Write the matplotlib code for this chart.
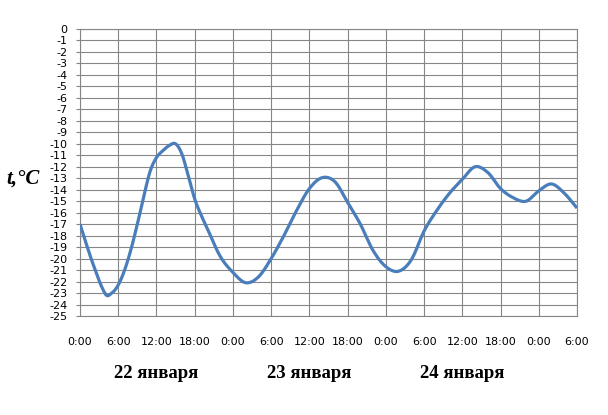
import numpy as np
import matplotlib
matplotlib.use('Agg')
import matplotlib.pyplot as plt
import matplotlib.transforms as mtransforms

plt.rcParams['axes.unicode_minus'] = False

# данные: часы от 0:00 22 января, температура
hours = [0, 2, 4, 5, 6, 7, 8, 9, 10, 11, 12, 13, 14, 15, 16, 17, 18, 19, 20, 22, 24, 26, 28,
         30, 32, 34, 36, 38, 40, 42, 44, 46, 48, 50, 52, 54, 56, 58, 60, 62, 64, 66,
         68, 70, 72, 74, 76, 78]
temps = [-17.0, -20.4, -23.1, -23.0, -22.3, -21.0, -19.2, -17.0, -14.6, -12.4, -11.2, -10.6,
         -10.15, -10.0, -10.9, -12.8, -14.8, -16.2, -17.4, -19.8, -21.2, -22.1, -21.6,
         -20.0, -18.0, -15.8, -13.9, -12.95, -13.3, -15.1, -17.0, -19.3, -20.7,
         -21.1, -20.1, -17.6, -15.8, -14.3, -13.1, -12.0, -12.5, -13.9,
         -14.7, -15.0, -14.1, -13.5, -14.3, -15.6]

tick_hours = list(range(0, 79, 6))
tick_labels = ['0:00', '6:00', '12:00', '18:00'] * 3 + ['0:00', '6:00']
day_names = ['22 января', '23 января', '24 января']
day_centers = [12, 36, 60]
day_starts = [24, 48, 72]


def smooth(x, y, n=12):
    # сглаженная линия (кубический Эрмит по x)
    x = np.asarray(x, float)
    y = np.asarray(y, float)
    m = np.empty_like(y)
    m[1:-1] = (y[2:] - y[:-2]) / (x[2:] - x[:-2])
    m[0] = (y[1] - y[0]) / (x[1] - x[0])
    m[-1] = (y[-1] - y[-2]) / (x[-1] - x[-2])
    xs, ys = [], []
    t = np.linspace(0, 1, n, endpoint=False)
    for i in range(len(x) - 1):
        h = x[i + 1] - x[i]
        h00 = 2 * t ** 3 - 3 * t ** 2 + 1
        h10 = t ** 3 - 2 * t ** 2 + t
        h01 = -2 * t ** 3 + 3 * t ** 2
        h11 = t ** 3 - t ** 2
        xs.append(x[i] + t * h)
        ys.append(h00 * y[i] + h10 * h * m[i] + h01 * y[i + 1] + h11 * h * m[i + 1])
    xs.append([x[-1]])
    ys.append([y[-1]])
    return np.concatenate(xs), np.concatenate(ys)


fig = plt.figure(figsize=(6.08, 4.15), dpi=100)
ax = fig.add_axes([80 / 608, 1 - 316 / 415, 497 / 608, 287 / 415])

grid_col = '#868686'
ax.set_xlim(0, 78)
ax.set_ylim(-25, 0)
ax.set_yticks(np.arange(-25, 1, 1))
ax.set_yticklabels([str(v) for v in range(-25, 1)], fontsize=8)
ax.set_xticks(tick_hours)
ax.set_xticklabels(tick_labels, fontsize=8)
ax.set_xticks(day_starts, minor=True)
ax.grid(True, which='major', color=grid_col, linewidth=0.8)
ax.tick_params(axis='y', length=3, color=grid_col, pad=6)
ax.tick_params(axis='x', which='major', length=0, pad=15)
ax.tick_params(axis='x', which='minor', length=9.5, color=grid_col, width=0.8)
for s in ax.spines.values():
    s.set_color(grid_col)
    s.set_linewidth(0.8)

sx, sy = smooth(hours, temps)
ax.plot(sx, sy, color='#4a7ebb', linewidth=2.3, solid_capstyle='butt', zorder=3)

trans = mtransforms.blended_transform_factory(ax.transData, ax.transAxes)
for c, name in zip(day_centers, day_names):
    ax.text(c, -0.2, name, transform=trans, ha='center', va='center',
            fontsize=13.5, fontweight='bold', family='Liberation Serif')

fig.text(23 / 608, 1 - 179 / 415, 't,°C', ha='center', va='center', fontsize=15,
         fontweight='bold', style='italic', family='Liberation Serif')

fig.savefig('out.png', dpi=100)
